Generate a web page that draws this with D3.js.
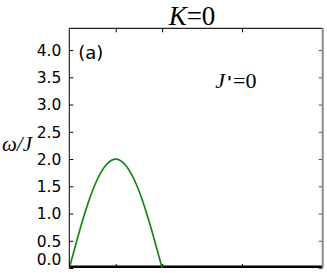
<!DOCTYPE html>
<html>
<head>
<meta charset="utf-8">
<script src="https://cdn.jsdelivr.net/npm/d3@7"></script>
<style>
  body { margin: 0; background: #fff; }
  svg { display: block; }
</style>
</head>
<body>
<div id="chart"></div>
<script>
// values
let yTicks = [0.0, 0.5, 1.0, 1.5, 2.0, 2.5, 3.0, 3.5, 4.0];
let xTicks = [0.5, 1.0, 1.86];
let xDomain = [0, 2.73];
let yDomain = [0, 4.4];

// dispersive (green) branch
let k_green = [0, 0.1, 0.2, 0.3, 0.4, 0.5, 0.6, 0.7, 0.8, 0.9, 1.0];
let w_green = [0, 0.62, 1.18, 1.62, 1.90, 2.0, 1.90, 1.62, 1.18, 0.62, 0];

// flat zero band (black)
let k_flat = [0, 2.73];
let w_flat = [0, 0];

let margin = {top: 28.3, right: 4.3, bottom: 5, left: 69.3}
    , width = 327
    , height = 273;
let plotW = width - margin.left - margin.right;
let plotH = height - margin.top - margin.bottom;

let xScale = d3.scaleLinear().domain(xDomain).range([0, plotW]);
let yScale = d3.scaleLinear().domain(yDomain).range([plotH, 0]);

let svg = d3.select("#chart").append("svg")
    .attr("width", width)
    .attr("height", height);

// title
svg.append("text")
    .attr("x", 192)
    .attr("y", 24.5)
    .attr("text-anchor", "middle")
    .style("font-family", "Liberation Serif, serif")
    .style("font-size", "27px")
    .html("<tspan font-style='italic'>K</tspan>=0");

// y label
svg.append("text")
    .attr("x", 17)
    .attr("y", 151)
    .attr("text-anchor", "middle")
    .style("font-family", "Liberation Serif, serif")
    .style("font-size", "21px")
    .style("font-style", "italic")
    .text("ω/J");

let g = svg.append("g")
    .attr("transform", "translate(" + margin.left + "," + margin.top + ")");

g.append("clipPath").attr("id", "clip")
    .append("rect").attr("width", plotW).attr("height", plotH);

// y axis labels (left) + inward ticks on both sides
let yAxisL = d3.axisLeft(yScale).tickValues(yTicks).tickFormat(d3.format(".1f"))
    .tickSizeInner(-4).tickSizeOuter(0).tickPadding(8);
let ga = g.append("g").call(yAxisL);
ga.select(".domain").remove();
ga.selectAll("text")
    .style("font-family", "DejaVu Sans, sans-serif")
    .style("font-size", "15.5px")
    .attr("fill", "#000")
    .attr("dy", function(d) { return d == 0 ? "-0.2em" : "0.34em"; });
ga.selectAll("line").attr("stroke", "#000");

let yAxisR = d3.axisRight(yScale).tickValues(yTicks).tickFormat("")
    .tickSizeInner(-4).tickSizeOuter(0);
let gr = g.append("g").attr("transform", "translate(" + plotW + ",0)").call(yAxisR);
gr.select(".domain").remove();
gr.selectAll("line").attr("stroke", "#555");

let xAxisB = d3.axisBottom(xScale).tickValues(xTicks).tickFormat("")
    .tickSizeInner(-4).tickSizeOuter(0);
let gb = g.append("g").attr("transform", "translate(0," + plotH + ")").call(xAxisB);
gb.select(".domain").remove();
gb.selectAll("line").attr("stroke", "#000");

let xAxisT = d3.axisTop(xScale).tickValues(xTicks).tickFormat("")
    .tickSizeInner(-4).tickSizeOuter(0);
let gt = g.append("g").call(xAxisT);
gt.select(".domain").remove();
gt.selectAll("line").attr("stroke", "#000");

// lines
let line = d3.line()
    .x(function(d) { return xScale(d[0]); })
    .y(function(d) { return yScale(d[1]); });

let plot = g.append("g").attr("clip-path", "url(#clip)");

plot.append("path")
    .datum(d3.zip(k_flat, w_flat))
    .attr("d", line.curve(d3.curveLinear))
    .style("fill", "none")
    .style("stroke", "#000")
    .style("stroke-width", "5");

plot.append("path")
    .datum(d3.zip(k_green, w_green))
    .attr("d", line.curve(d3.curveNatural))
    .style("fill", "none")
    .style("stroke", "#168516")
    .style("stroke-width", "1.7");

// frame
g.append("line").attr("x1", 0).attr("x2", 0).attr("y1", 0).attr("y2", plotH)
    .attr("stroke", "#000").attr("stroke-width", 1);
g.append("line").attr("x1", 0).attr("x2", plotW).attr("y1", 0).attr("y2", 0)
    .attr("stroke", "#222").attr("stroke-width", 1.2);
g.append("line").attr("x1", plotW).attr("x2", plotW).attr("y1", 0).attr("y2", plotH)
    .attr("stroke", "#8a8a8a").attr("stroke-width", 2);

// annotations
g.append("text")
    .attr("x", 9)
    .attr("y", 30.5)
    .style("font-family", "DejaVu Sans, sans-serif")
    .style("font-size", "18px")
    .text("(a)");

g.append("text")
    .attr("x", 146)
    .attr("y", 60)
    .style("font-family", "Liberation Serif, serif")
    .style("font-size", "22px")
    .html("<tspan font-style='italic'>J</tspan><tspan font-family='DejaVu Sans' font-size='16px' font-weight='bold' dx='2'>'</tspan><tspan dx='1'>=0</tspan>");
</script>
</body>
</html>
